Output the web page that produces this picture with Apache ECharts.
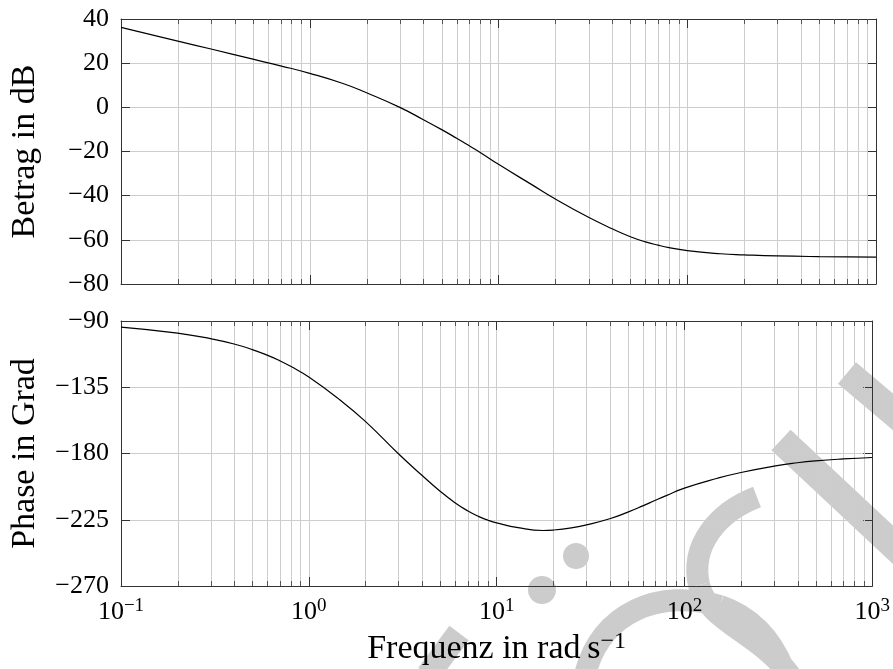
<!DOCTYPE html>
<html>
<head>
<meta charset="utf-8">
<script src="https://cdn.jsdelivr.net/npm/echarts@6/dist/echarts.min.js"></script>
<style>
html,body{margin:0;padding:0;background:#fff}
#chart{width:893px;height:669px}
</style>
</head>
<body>
<div id="chart"></div>
<script>
// Betrag (dB) ueber Frequenz
var freqBetrag = [0.1,0.2,0.3,0.5,0.7,1,1.5,2,3,4,5,6,7,8,10,15,20,30,40,50,60,70,80,100,150,200,300,500,1000]
var betrag = [36.2,30.0,26.4,21.8,18.8,15.4,10.8,6.6,0.0,-5.6,-10.1,-14.0,-17.4,-20.4,-25.8,-35.0,-41.5,-49.8,-55.0,-58.6,-60.9,-62.4,-63.5,-64.9,-66.3,-66.8,-67.3,-67.6,-67.8]

// Phase (Grad) ueber Frequenz
var freqPhase = [0.1,0.2,0.3,0.4,0.5,0.6,0.7,0.8,1,1.46,2,3,4,5,6,7,8,9,10,13,17.7,20,25,30,40,50,60,70,80,100,150,200,300,400,500,700,1000]
var phase = [-94.1,-98.2,-102.0,-105.6,-109.4,-113.2,-117.0,-120.8,-128.1,-143.5,-158.2,-180.2,-194.8,-205.6,-213.4,-218.9,-222.7,-225.3,-227.1,-230.4,-232.3,-232.0,-230.5,-228.5,-224.3,-219.8,-215.6,-211.8,-208.6,-203.5,-196.8,-192.9,-188.6,-186.3,-185.0,-183.7,-182.7]

// Nebenteilung der log. Achse
var minorTicks = [0.2,0.3,0.4,0.5,0.6,0.7,0.8,0.9,
                  2,3,4,5,6,7,8,9,
                  20,30,40,50,60,70,80,90,
                  200,300,400,500,600,700,800,900]

var font = "'Liberation Serif', 'DejaVu Serif', serif"
var gridColor = '#cdcdcd'
var axisColor = '#333'

function minus(v){
    return v < 0 ? '\u2212' + (-v) : '' + v
}

function xAxisDef(grid, pos, labels){
    return {
        type: 'log', logBase: 10, min: 0.1, max: 1000,
        gridIndex: grid, position: pos,
        axisLine: {show: true, onZero: false, lineStyle: {color: axisColor, width: 1}},
        axisTick: {show: true, inside: true, length: 9, lineStyle: {color: axisColor}},
        splitLine: {show: pos == 'bottom', lineStyle: {color: gridColor, width: 1}},
        axisLabel: {
            show: labels, margin: 11,
            formatter: function(v){
                var e = Math.round(Math.log10(v))
                return '{b|10}{s|' + minus(e) + '}'
            },
            rich: {
                b: {fontSize: 26, fontFamily: font, color: '#000'},
                s: {fontSize: 19, fontFamily: font, color: '#000', padding: [0, 0, 11, 0]}
            }
        }
    }
}

function yAxisDef(grid, pos, min, max, step, name){
    return {
        type: 'value', min: min, max: max, interval: step,
        gridIndex: grid, position: pos,
        name: pos == 'left' ? name : '',
        nameLocation: 'middle', nameRotate: 90, nameGap: 79,
        nameTextStyle: {fontSize: 34, fontFamily: font, color: '#000'},
        axisLine: {show: true, onZero: false, lineStyle: {color: axisColor, width: 1}},
        axisTick: {show: true, inside: true, length: 9, lineStyle: {color: axisColor}},
        splitLine: {show: pos == 'left', lineStyle: {color: gridColor, width: 1}},
        axisLabel: {
            show: pos == 'left', margin: 12, padding: [5, 0, 0, 0],
            fontSize: 26, fontFamily: font, color: '#000',
            formatter: minus
        }
    }
}

function minorSeries(xi, yi, ymin, ymax){
    return {
        type: 'custom', xAxisIndex: xi, yAxisIndex: yi, z: 2, silent: true,
        data: minorTicks.map(function(f){ return [f, ymin] }),
        renderItem: function(params, api){
            var f = api.value(0)
            var pb = api.coord([f, ymin])
            var pt = api.coord([f, ymax])
            var x = Math.round(pb[0]) + 0.5
            return {
                type: 'group',
                children: [
                    {type: 'line', shape: {x1: x, y1: pb[1], x2: x, y2: pt[1]}, style: {stroke: gridColor, lineWidth: 1}},
                    {type: 'line', shape: {x1: x, y1: pb[1], x2: x, y2: pb[1] - 5}, style: {stroke: '#555', lineWidth: 1}},
                    {type: 'line', shape: {x1: x, y1: pt[1], x2: x, y2: pt[1] + 5}, style: {stroke: '#555', lineWidth: 1}}
                ]
            }
        }
    }
}

// Wasserzeichen (grau, hinter Achsen und Kurven)
var wm = '#cccccc'
function wmCurve(x1, y1, c1x, c1y, c2x, c2y, x2, y2, w){
    return {type: 'bezierCurve', z: -1, silent: true,
        shape: {x1: x1, y1: y1, cpx1: c1x, cpy1: c1y, cpx2: c2x, cpy2: c2y, x2: x2, y2: y2},
        style: {stroke: wm, fill: null, lineWidth: w}}
}

var chart = echarts.init(document.getElementById('chart'))
var option = {
    animation: false,
    backgroundColor: '#fff',
    grid: [
        {left: 120, right: 17, top: 19, height: 265},
        {left: 120, right: 17, top: 321, height: 265}
    ],
    xAxis: [
        xAxisDef(0, 'bottom', false),
        xAxisDef(0, 'top', false),
        Object.assign(xAxisDef(1, 'bottom', true), {
            name: '{n|Frequenz in rad\u2009s}{s|\u22121}',
            nameLocation: 'middle', nameGap: 44,
            nameTextStyle: {
                rich: {
                    n: {fontSize: 34, fontFamily: font, color: '#000'},
                    s: {fontSize: 24, fontFamily: font, color: '#000', padding: [0, 0, 15, 0]}
                }
            }
        }),
        xAxisDef(1, 'top', false)
    ],
    yAxis: [
        yAxisDef(0, 'left', -80, 40, 20, 'Betrag in dB'),
        yAxisDef(0, 'right', -80, 40, 20, ''),
        yAxisDef(1, 'left', -270, -90, 45, 'Phase in Grad'),
        yAxisDef(1, 'right', -270, -90, 45, '')
    ],
    graphic: {
        elements: [
            {type: 'circle', z: -1, silent: true, shape: {cx: 576, cy: 556, r: 13}, style: {fill: wm}},
            {type: 'circle', z: -1, silent: true, shape: {cx: 542, cy: 590, r: 14}, style: {fill: wm}},
            {type: 'line', z: -1, silent: true, shape: {x1: 847, y1: 373, x2: 905, y2: 422}, style: {stroke: wm, lineWidth: 28}},
            {type: 'line', z: -1, silent: true, shape: {x1: 781, y1: 440, x2: 905, y2: 556}, style: {stroke: wm, lineWidth: 28}},
            wmCurve(757, 497, 718, 512, 690, 545, 699, 585, 22),
            wmCurve(699, 585, 708, 622, 758, 632, 790, 675, 22),
            wmCurve(585, 675, 600, 612, 660, 588, 720, 606, 22),
            wmCurve(720, 606, 752, 617, 772, 640, 784, 670, 22),
            {type: 'line', z: -1, silent: true, shape: {x1: 459, y1: 633, x2: 428, y2: 675}, style: {stroke: wm, lineWidth: 24}}
        ]
    },
    series: [
        minorSeries(0, 0, -80, 40),
        minorSeries(2, 2, -270, -90),
        {
            type: 'line', xAxisIndex: 0, yAxisIndex: 0, z: 10,
            data: freqBetrag.map(function(f, i){ return [f, betrag[i]] }),
            showSymbol: false, smooth: 0.5,
            lineStyle: {color: '#000', width: 1.2}
        },
        {
            type: 'line', xAxisIndex: 2, yAxisIndex: 2, z: 10,
            data: freqPhase.map(function(f, i){ return [f, phase[i]] }),
            showSymbol: false, smooth: 0.5,
            lineStyle: {color: '#000', width: 1.2}
        }
    ]
}
chart.setOption(option)
</script>
</body>
</html>
